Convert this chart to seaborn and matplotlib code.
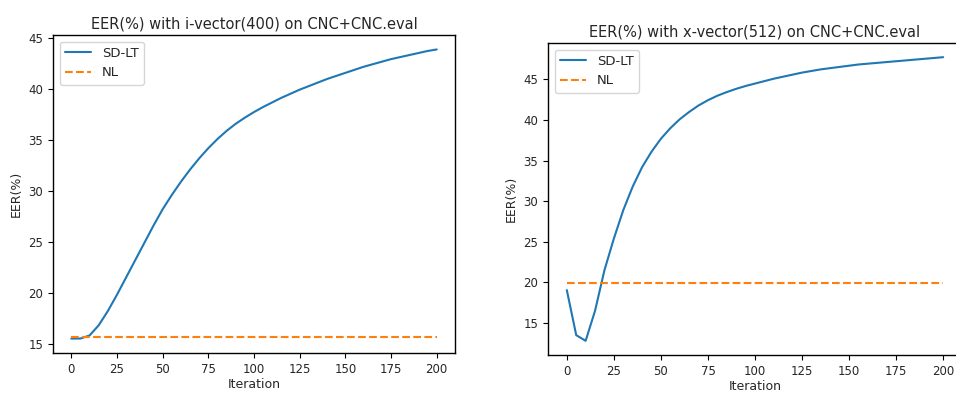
import numpy as np
import pandas as pd
import matplotlib
matplotlib.use("Agg")
import matplotlib.pyplot as plt
import seaborn as sns

iterations = list(range(0, 201, 5))

ivec_sdlt = [15.5, 15.5, 15.8, 16.8, 18.2, 19.8, 21.5, 23.2, 24.9, 26.6,
             28.2, 29.6, 30.9, 32.1, 33.2, 34.2, 35.1, 35.9, 36.6, 37.2,
             37.75, 38.25, 38.7, 39.15, 39.55, 39.95, 40.3, 40.65, 41.0, 41.3,
             41.6, 41.9, 42.2, 42.45, 42.7, 42.95, 43.15, 43.35, 43.55, 43.75, 43.9]
ivec_nl = 15.65

xvec_sdlt = [19.05, 13.5, 12.8, 16.5, 21.5, 25.4, 28.9, 31.8, 34.2, 36.1,
             37.7, 39.0, 40.1, 41.0, 41.8, 42.45, 43.0, 43.45, 43.85, 44.2,
             44.5, 44.8, 45.1, 45.35, 45.6, 45.85, 46.05, 46.25, 46.4, 46.55,
             46.7, 46.85, 46.95, 47.05, 47.15, 47.25, 47.35, 47.45, 47.55, 47.65, 47.75]
xvec_nl = 19.9

titles = ["EER(%) with i-vector(400) on CNC+CNC.eval",
          "EER(%) with x-vector(512) on CNC+CNC.eval"]

sns.set_style("ticks")
plt.rcParams['font.family'] = ['DejaVu Sans']
plt.rcParams['axes.edgecolor'] = 'black'
plt.rcParams['axes.linewidth'] = 1.0

fig = plt.figure(figsize=(9.56, 3.98), dpi=100)
W, H = 956, 398
ax1 = fig.add_axes([53 / W, (H - 353) / H, (455 - 53) / W, (353 - 35) / H])
ax2 = fig.add_axes([548 / W, (H - 355) / H, (962 - 548) / W, (355 - 43) / H])

for ax, sd, nl, title in [(ax1, ivec_sdlt, ivec_nl, titles[0]),
                          (ax2, xvec_sdlt, xvec_nl, titles[1])]:
    df = pd.DataFrame({"Iteration": iterations, "SD-LT": sd,
                       "NL": [nl] * len(iterations)})
    sns.lineplot(data=df, x="Iteration", y="SD-LT", ax=ax, color="#1f77b4",
                 linewidth=1.5, label="SD-LT")
    sns.lineplot(data=df, x="Iteration", y="NL", ax=ax, color="#ff7f0e",
                 linewidth=1.5, linestyle="--", label="NL")
    ax.set_xlabel("Iteration", fontsize=9, labelpad=2)
    ax.set_ylabel("EER(%)", fontsize=9)
    ax.set_title(title, fontsize=10.5, pad=5)
    ax.set_xticks([0, 25, 50, 75, 100, 125, 150, 175, 200])
    ax.tick_params(labelsize=8.5, direction="out", length=3.5, color="black")
    ax.legend(loc="upper left", fontsize=9.5, frameon=True)
    for s in ax.spines.values():
        s.set_visible(True)
        s.set_color("black")
    ax.margins(x=0.05, y=0.05)

fig.savefig("out.png", dpi=100)
